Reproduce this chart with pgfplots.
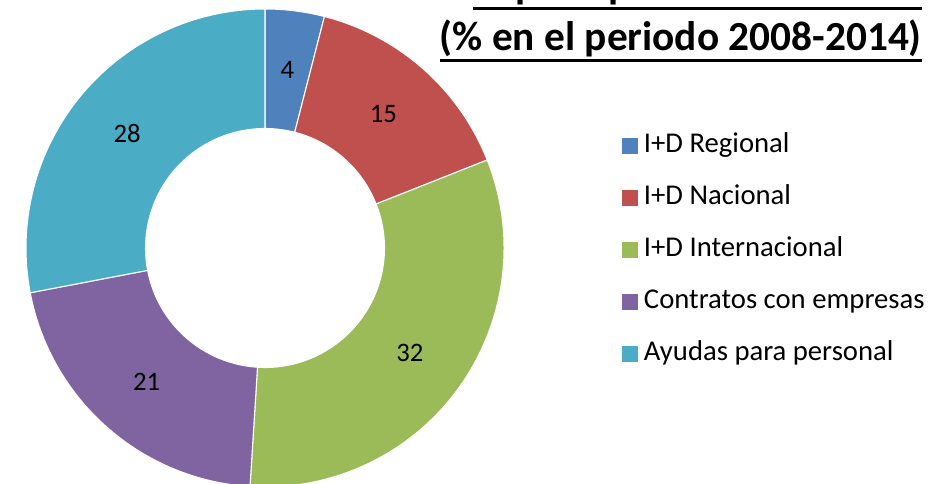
\documentclass[border=0pt]{standalone}
\usepackage{fontspec}
\setmainfont{Carlito}
\usepackage{pgfplots}
\usepackage{pgfplotstable}
\pgfplotsset{compat=1.18}
\definecolor{c0}{HTML}{4F81BD}
\definecolor{c1}{HTML}{C0504D}
\definecolor{c2}{HTML}{9BBB59}
\definecolor{c3}{HTML}{8064A2}
\definecolor{c4}{HTML}{4BACC6}
\newcommand\labelfont{\fontsize{20}{24}\selectfont}

\pgfplotstableread[col sep=comma]{
label,value
I+D Regional,4
I+D Nacional,15
I+D Internacional,32
Contratos con empresas,21
Ayudas para personal,28
}\donutdata

% cumulative angles (clockwise from the top)
\gdef\cumsum{0}
\foreach \i in {0,...,4}{%
  \pgfplotstablegetelem{\i}{value}\of\donutdata
  \let\v\pgfplotsretval
  \pgfmathsetmacro\sa{90-3.6*\cumsum}
  \pgfmathsetmacro\sb{90-3.6*(\cumsum+\v)}
  \pgfmathsetmacro\sm{90-3.6*(\cumsum+\v/2)}
  \expandafter\xdef\csname donutA\i\endcsname{\sa}
  \expandafter\xdef\csname donutB\i\endcsname{\sb}
  \expandafter\xdef\csname donutM\i\endcsname{\sm}
  \expandafter\xdef\csname donutV\i\endcsname{\v}
  \pgfmathsetmacro\nc{\cumsum+\v}
  \xdef\cumsum{\nc}
}

\begin{document}
\begin{tikzpicture}
\begin{axis}[
  x=0.75pt, y=0.75pt,
  xmin=0, xmax=936, ymin=0, ymax=484,
  hide axis, clip=false,
  legend image code/.code={\fill[#1, draw=none] (0pt,-6pt) rectangle (12pt,6pt);},
  legend style={at={(axis cs:617.7,355.3)}, anchor=north west, draw=none, fill=none,
    font=\fontsize{21.5}{25}\selectfont, row sep=17pt,
    nodes={inner sep=1pt, text height=15pt, text depth=5pt},
    /tikz/every odd column/.append style={column sep=3.5pt}},
  legend cell align=left,
]
\pgfplotsinvokeforeach{0,...,4}{%
  \edef\tmp{%
   \noexpand\fill[c#1, draw=white, line width=0.8pt]
     (axis cs:{265+239*cos(\csname donutA#1\endcsname)},{236+239*sin(\csname donutA#1\endcsname)})
     arc[start angle=\csname donutA#1\endcsname, end angle=\csname donutB#1\endcsname, radius=179.25pt]
     -- (axis cs:{265+119.5*cos(\csname donutB#1\endcsname)},{236+119.5*sin(\csname donutB#1\endcsname)})
     arc[start angle=\csname donutB#1\endcsname, end angle=\csname donutA#1\endcsname, radius=89.625pt] -- cycle;
   \noexpand\node[font=\noexpand\labelfont] at (axis cs:{265+179*cos(\csname donutM#1\endcsname)},{236+179*sin(\csname donutM#1\endcsname)}) {\csname donutV#1\endcsname};
  }\tmp
}
\addlegendimage{fill=c0}
\addlegendimage{fill=c1}
\addlegendimage{fill=c2}
\addlegendimage{fill=c3}
\addlegendimage{fill=c4}
\legend{I+D Regional, I+D Nacional, I+D Internacional, Contratos con empresas, Ayudas para personal}

\node[anchor=base east, inner sep=0pt, font=\fontsize{31}{36}\bfseries\selectfont] (t1) at (axis cs:922,485.5) {II. por tipo de financiación};
\draw[line width=2.4pt] ([yshift=-7.5pt]t1.base west) -- ([yshift=-7.5pt]t1.base east);
\node[anchor=base east, inner sep=0pt, font=\fontsize{31}{36}\bfseries\selectfont] (t2) at (axis cs:922,433.5) {(\% en el periodo 2008-2014)};
\draw[line width=2.4pt] ([yshift=-7.5pt]t2.base west) -- ([yshift=-7.5pt]t2.base east);
\end{axis}
\pgfresetboundingbox
\useasboundingbox (0,0) rectangle (702pt,363pt);
\end{tikzpicture}
\end{document}
